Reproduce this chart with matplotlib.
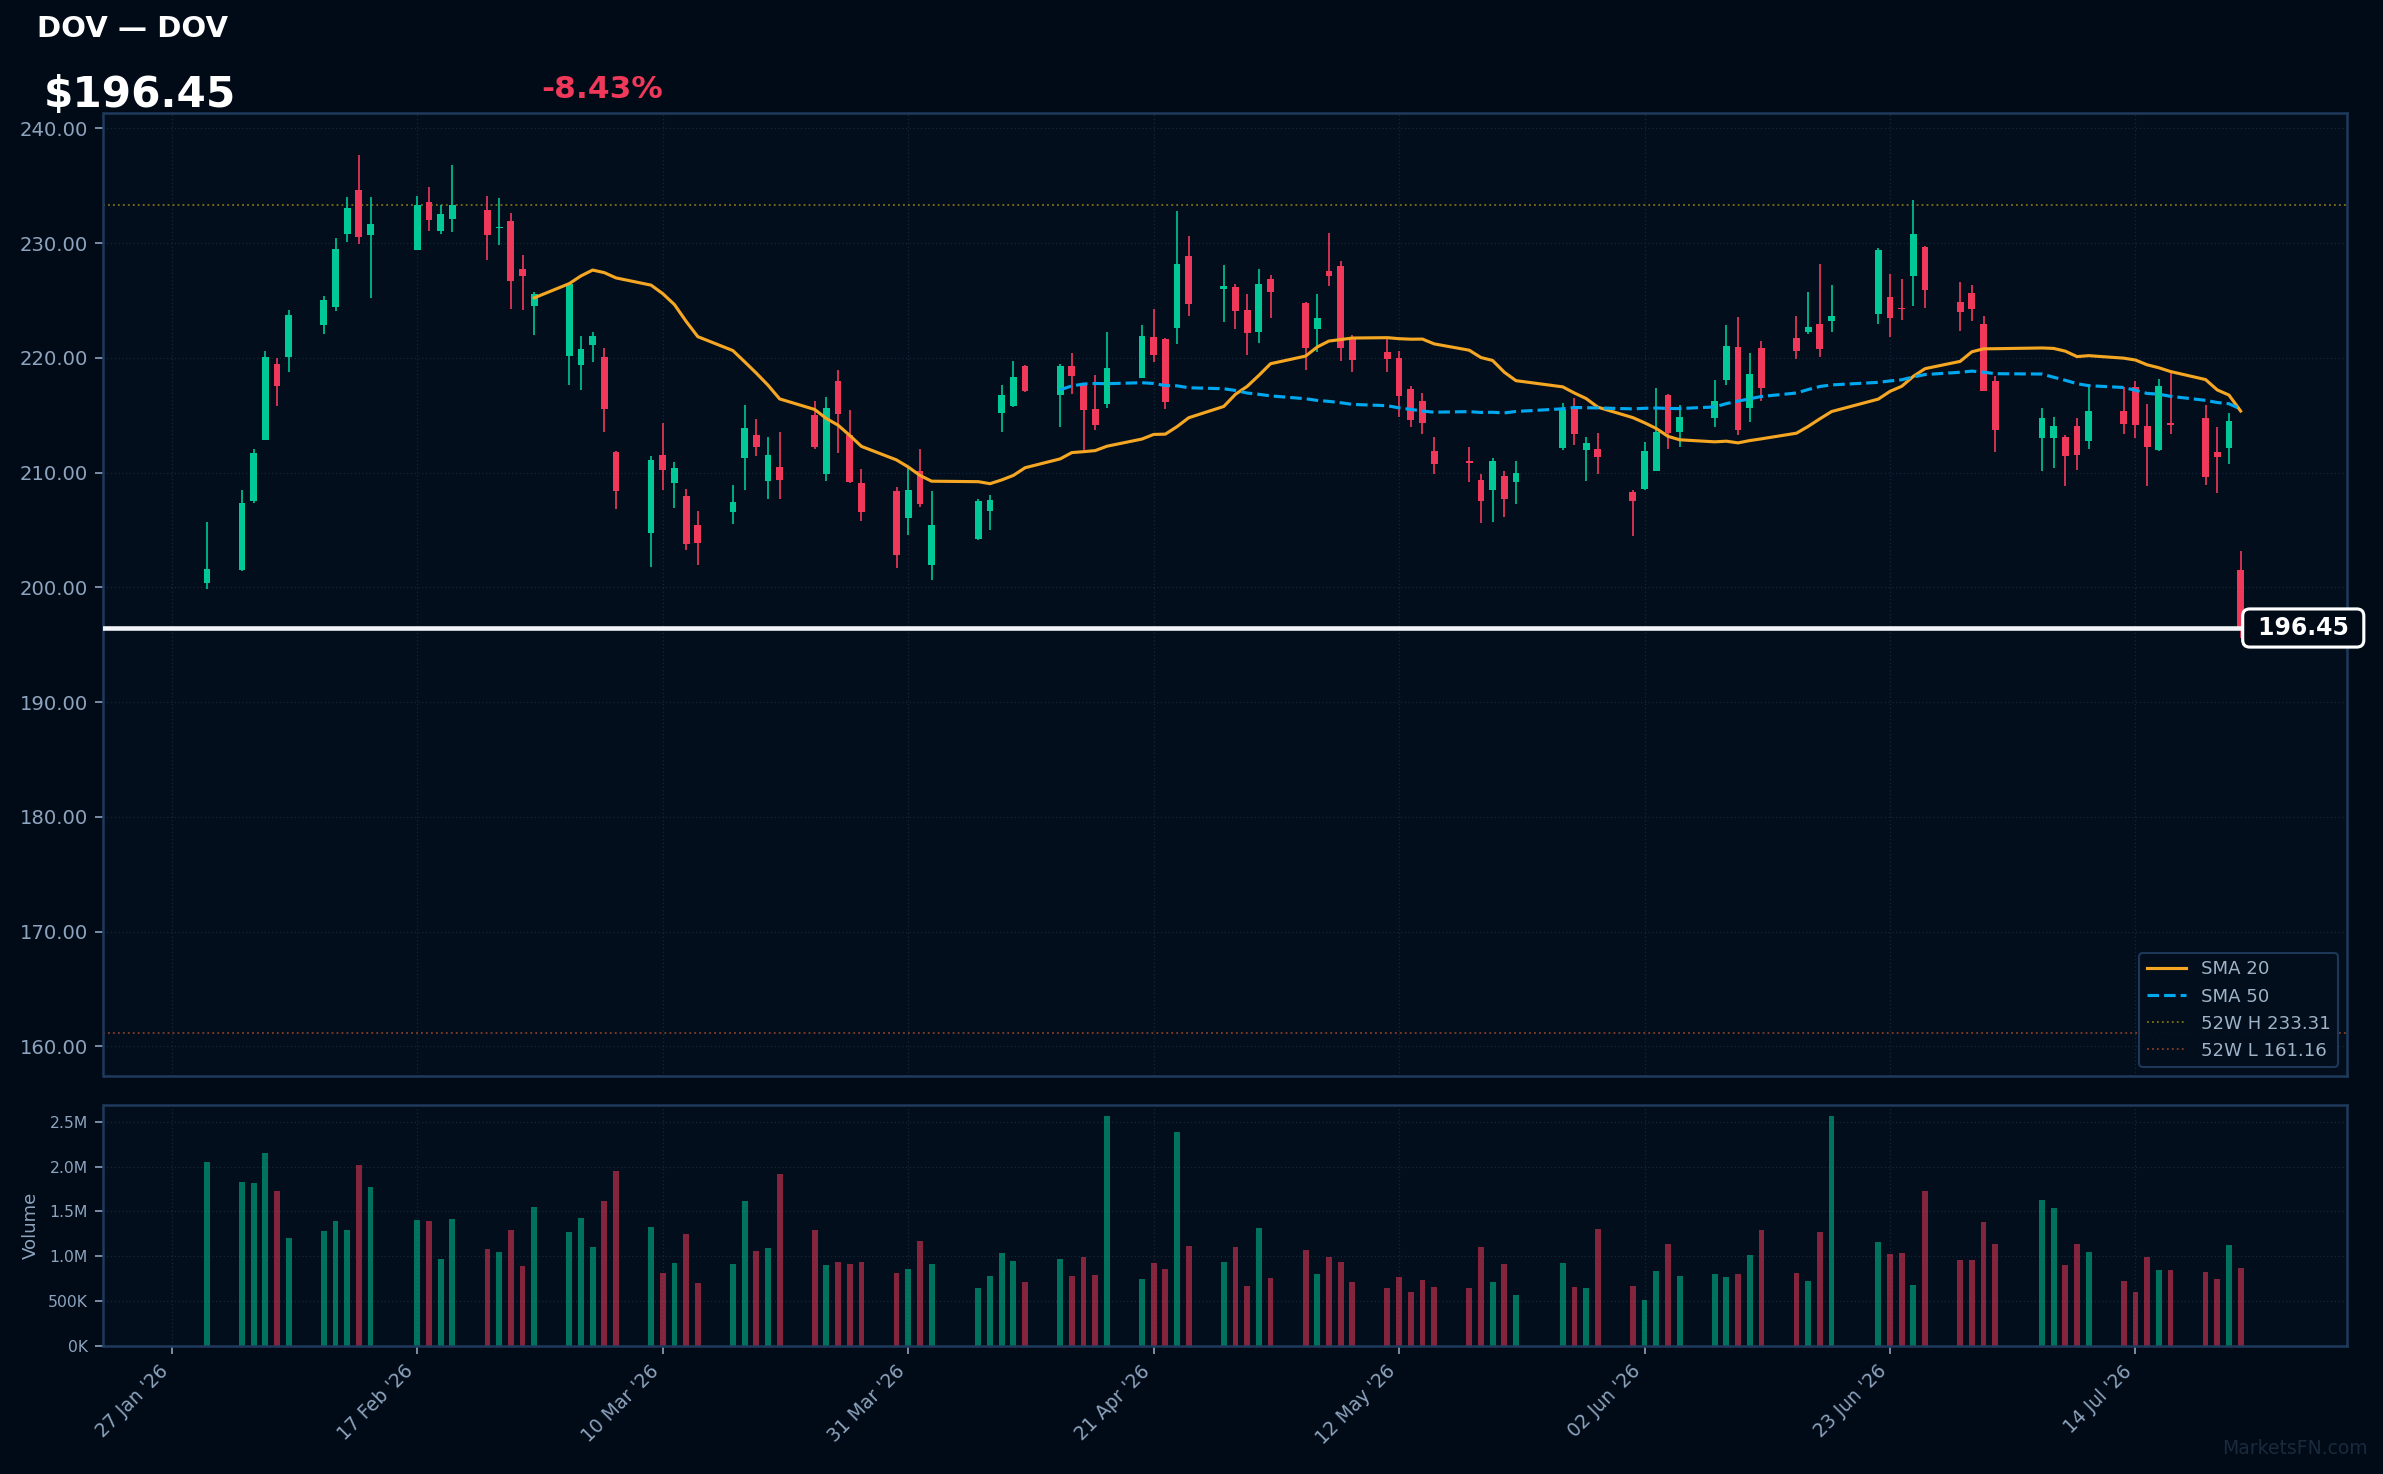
import matplotlib
matplotlib.use("Agg")
import matplotlib.pyplot as plt
import matplotlib.dates as mdates
import matplotlib.transforms as mtransforms
from matplotlib.ticker import FuncFormatter, MultipleLocator, FixedLocator
import numpy as np
import pandas as pd

# ---------------- data ----------------
ticker = "DOV"
name = "DOV"
high_52w = 233.31
low_52w = 161.16

dates = [
    "2026-01-30", "2026-02-02", "2026-02-03", "2026-02-04", "2026-02-05", "2026-02-06",
    "2026-02-09", "2026-02-10", "2026-02-11", "2026-02-12", "2026-02-13",
    "2026-02-17", "2026-02-18", "2026-02-19", "2026-02-20",
    "2026-02-23", "2026-02-24", "2026-02-25", "2026-02-26", "2026-02-27",
    "2026-03-02", "2026-03-03", "2026-03-04", "2026-03-05", "2026-03-06",
    "2026-03-09", "2026-03-10", "2026-03-11", "2026-03-12", "2026-03-13",
    "2026-03-16", "2026-03-17", "2026-03-18", "2026-03-19", "2026-03-20",
    "2026-03-23", "2026-03-24", "2026-03-25", "2026-03-26", "2026-03-27",
    "2026-03-30", "2026-03-31", "2026-04-01", "2026-04-02",
    "2026-04-06", "2026-04-07", "2026-04-08", "2026-04-09", "2026-04-10",
    "2026-04-13", "2026-04-14", "2026-04-15", "2026-04-16", "2026-04-17",
    "2026-04-20", "2026-04-21", "2026-04-22", "2026-04-23", "2026-04-24",
    "2026-04-27", "2026-04-28", "2026-04-29", "2026-04-30", "2026-05-01",
    "2026-05-04", "2026-05-05", "2026-05-06", "2026-05-07", "2026-05-08",
    "2026-05-11", "2026-05-12", "2026-05-13", "2026-05-14", "2026-05-15",
    "2026-05-18", "2026-05-19", "2026-05-20", "2026-05-21", "2026-05-22",
    "2026-05-26", "2026-05-27", "2026-05-28", "2026-05-29",
    "2026-06-01", "2026-06-02", "2026-06-03", "2026-06-04", "2026-06-05",
    "2026-06-08", "2026-06-09", "2026-06-10", "2026-06-11", "2026-06-12",
    "2026-06-15", "2026-06-16", "2026-06-17", "2026-06-18",
    "2026-06-22", "2026-06-23", "2026-06-24", "2026-06-25", "2026-06-26",
    "2026-06-29", "2026-06-30", "2026-07-01", "2026-07-02",
    "2026-07-06", "2026-07-07", "2026-07-08", "2026-07-09", "2026-07-10",
    "2026-07-13", "2026-07-14", "2026-07-15", "2026-07-16", "2026-07-17",
    "2026-07-20", "2026-07-21", "2026-07-22", "2026-07-23",
]

opens = [
    200.35, 201.51, 207.55, 212.87, 219.46, 220.04,
    222.86, 224.46, 230.82, 234.62, 230.70,
    229.42, 233.58, 231.08, 232.12,
    232.88, 231.30, 231.92, 227.74, 224.52,
    220.16, 219.37, 221.12, 220.04, 211.79,
    204.74, 211.53, 209.09, 207.96, 205.43,
    206.57, 211.27, 213.27, 209.27, 210.49,
    215.02, 209.91, 217.98, 213.27, 209.09,
    208.39, 206.04, 210.14, 201.95,
    204.21, 206.65, 215.19, 215.80, 219.29,
    216.76, 219.29, 217.63, 215.54, 215.98,
    218.24, 221.81, 221.64, 222.60, 228.87,
    226.00, 226.17, 224.17, 222.28, 226.87,
    224.78, 222.51, 227.56, 228.00, 221.64,
    220.51, 219.98, 217.28, 216.24, 211.88,
    210.98, 209.35, 208.48, 209.70, 209.18,
    212.14, 215.63, 211.97, 212.05,
    208.31, 208.57, 210.14, 216.76, 213.54,
    214.76, 218.07, 220.94, 215.63, 220.86,
    221.73, 222.25, 222.95, 223.21,
    223.82, 225.30, 224.34, 227.13, 229.66,
    224.86, 225.65, 222.95, 217.98,
    213.01, 213.01, 213.10, 214.06, 212.75,
    215.37, 217.46, 214.06, 211.97, 214.29,
    214.76, 211.79, 212.14, 201.51,
]

highs = [
    205.66, 208.48, 212.05, 220.59, 219.98, 224.17,
    225.39, 230.44, 234.01, 237.67, 234.01,
    234.10, 234.88, 233.32, 236.80,
    234.10, 233.93, 232.62, 228.96, 225.73,
    226.43, 221.90, 222.25, 220.86, 211.88,
    211.44, 214.32, 210.92, 208.57, 206.65,
    208.92, 215.89, 214.67, 213.10, 213.54,
    216.24, 216.59, 218.94, 215.45, 210.31,
    208.74, 210.40, 212.05, 208.39,
    207.70, 208.05, 217.63, 219.72, 219.37,
    219.46, 220.42, 217.63, 218.50, 222.25,
    222.86, 224.25, 221.73, 232.79, 230.61,
    228.09, 226.43, 225.56, 227.74, 227.22,
    224.86, 225.56, 230.87, 228.44, 221.99,
    221.64, 220.59, 217.54, 216.93, 213.10,
    212.23, 209.88, 211.27, 210.14, 211.01,
    216.06, 216.50, 213.10, 213.45,
    208.48, 212.66, 217.37, 216.85, 215.89,
    218.07, 222.86, 223.56, 220.42, 221.47,
    223.64, 225.73, 228.17, 226.34,
    229.57, 227.30, 226.87, 233.75, 229.74,
    226.61, 226.34, 223.64, 218.42,
    215.63, 214.84, 213.27, 214.76, 217.72,
    217.46, 217.98, 215.98, 218.15, 218.68,
    215.89, 213.97, 215.19, 203.17,
]

lows = [
    199.86, 201.45, 207.38, 212.80, 215.80, 218.79,
    222.07, 224.08, 230.09, 229.95, 225.24,
    229.40, 231.08, 230.79, 230.96,
    228.52, 229.83, 224.25, 224.17, 221.99,
    217.63, 217.20, 219.63, 213.54, 206.83,
    201.77, 208.48, 206.91, 203.25, 201.95,
    205.52, 208.48, 211.44, 207.70, 207.70,
    212.05, 209.30, 211.71, 209.09, 205.78,
    201.69, 204.56, 207.00, 200.64,
    204.12, 205.00, 213.54, 215.71, 217.02,
    213.97, 216.85, 211.97, 213.71, 215.63,
    218.20, 219.63, 215.54, 221.20, 223.64,
    223.12, 222.51, 220.25, 221.29, 223.47,
    218.94, 220.51, 226.26, 219.72, 218.76,
    218.76, 214.84, 213.97, 213.36, 209.88,
    209.18, 205.61, 205.69, 206.13, 207.26,
    211.97, 212.40, 209.27, 209.88,
    204.47, 208.50, 210.10, 212.05, 212.23,
    213.97, 217.63, 213.27, 214.41, 216.24,
    219.90, 222.07, 220.07, 222.25,
    222.95, 221.81, 223.29, 224.52, 224.34,
    222.34, 223.21, 217.10, 211.79,
    210.14, 210.40, 208.83, 210.22, 212.05,
    213.36, 213.01, 208.83, 211.88, 213.36,
    208.92, 208.22, 210.75, 195.60,
]

closes = [
    201.57, 207.35, 211.71, 220.04, 217.57, 223.70,
    225.04, 229.48, 233.05, 230.53, 231.66,
    233.32, 232.04, 232.53, 233.32,
    230.70, 231.40, 226.69, 227.13, 225.56,
    226.43, 220.77, 221.90, 215.54, 208.39,
    211.10, 210.22, 210.40, 203.78, 203.87,
    207.44, 213.88, 212.23, 211.53, 209.35,
    212.23, 215.63, 215.10, 209.18, 206.57,
    202.82, 208.48, 207.26, 205.43,
    207.52, 207.61, 216.76, 218.33, 217.11,
    219.29, 218.42, 215.45, 214.15, 219.11,
    221.90, 220.25, 216.15, 228.17, 224.69,
    226.26, 224.08, 222.19, 226.43, 225.73,
    220.86, 223.47, 227.13, 220.86, 219.81,
    219.90, 216.67, 214.58, 214.32, 210.75,
    210.86, 207.52, 211.01, 207.70, 209.96,
    215.45, 213.36, 212.58, 211.36,
    207.52, 211.88, 213.54, 213.45, 214.84,
    216.24, 221.03, 213.71, 218.59, 217.37,
    220.59, 222.68, 220.77, 223.64,
    229.39, 223.47, 224.25, 230.79, 225.91,
    223.99, 224.25, 217.11, 213.71,
    214.76, 214.06, 211.44, 211.53, 215.37,
    214.23, 214.15, 212.23, 217.54, 214.18,
    209.61, 211.36, 214.53, 196.45,
]

volumes_m = [
    2.055, 1.831, 1.820, 2.156, 1.731, 1.205,
    1.283, 1.395, 1.294, 2.022, 1.775,
    1.406, 1.395, 0.970, 1.417,
    1.082, 1.048, 1.294, 0.891, 1.552,
    1.272, 1.429, 1.104, 1.619, 1.954,
    1.328, 0.813, 0.925, 1.250, 0.701,
    0.914, 1.619, 1.059, 1.093, 1.921,
    1.294, 0.903, 0.936, 0.914, 0.936,
    0.813, 0.858, 1.171, 0.914,
    0.645, 0.780, 1.037, 0.947, 0.712,
    0.970, 0.780, 0.992, 0.791, 2.559,
    0.746, 0.925, 0.858, 2.391, 1.115,
    0.936, 1.104, 0.668, 1.317, 0.757,
    1.071, 0.802, 0.988, 0.936, 0.712,
    0.645, 0.768, 0.601, 0.735, 0.656,
    0.645, 1.104, 0.712, 0.914, 0.567,
    0.925, 0.656, 0.645, 1.305,
    0.668, 0.511, 0.836, 1.138, 0.780,
    0.802, 0.768, 0.802, 1.015, 1.294,
    0.813, 0.724, 1.272, 2.559,
    1.160, 1.026, 1.037, 0.679, 1.731,
    0.959, 0.959, 1.384, 1.138,
    1.630, 1.540, 0.903, 1.138, 1.048,
    0.724, 0.601, 0.988, 0.847, 0.847,
    0.824, 0.746, 1.126, 0.869,
]

tick_dates = ["2026-01-27", "2026-02-17", "2026-03-10", "2026-03-31", "2026-04-21",
              "2026-05-12", "2026-06-02", "2026-06-23", "2026-07-14"]

# ---------------- style ----------------
FIG_BG = "#000b17"
AX_BG = "#020e1b"
SPINE = "#1e3a5c"
GRID = "#15263a"
TXT = "#8ea3bd"
UP = "#00c897"
DOWN = "#f0395a"
SMA20_C = "#f5a623"
SMA50_C = "#00a8f0"

df = pd.DataFrame({"open": opens, "high": highs, "low": lows,
                   "close": closes, "volume": np.array(volumes_m) * 1e6},
                  index=pd.to_datetime(dates))
sma20 = df["close"].rolling(20).mean()
sma50 = df["close"].rolling(50).mean()

x = mdates.date2num(df.index.to_pydatetime())
up = df["close"].values >= df["open"].values
colors = np.where(up, UP, DOWN)

W, H = 2383, 1474
fig = plt.figure(figsize=(W / 150, H / 150), dpi=150, facecolor=FIG_BG)
L = 103.5 / W
R = 2347 / W
ax = fig.add_axes([L, 1 - 1076 / H, R - L, (1076 - 113) / H], facecolor=AX_BG)
axv = fig.add_axes([L, 1 - 1346 / H, R - L, (1346 - 1105) / H], facecolor=AX_BG, sharex=ax)

for a in (ax, axv):
    for s in a.spines.values():
        s.set_color(SPINE)
        s.set_linewidth(1.2)
    a.grid(True, color=GRID, linestyle=(0, (1, 2)), linewidth=0.6)
    a.set_axisbelow(True)
    a.tick_params(colors=TXT, which="both")

# candles
ax.vlines(x, df["low"], df["high"], colors=colors, linewidth=0.8, zorder=2)
body_bottom = np.minimum(df["open"], df["close"])
body_h = np.maximum(np.abs(df["close"] - df["open"]), 0.08)
ax.bar(x, body_h, bottom=body_bottom, width=0.58, color=colors, linewidth=0, zorder=3)

# SMAs
ax.plot(x, sma20.values, color=SMA20_C, linewidth=1.5, label="SMA 20", zorder=4)
ax.plot(x, sma50.values, color=SMA50_C, linewidth=1.5, linestyle="--", label="SMA 50", zorder=4)

# 52 week lines
ax.axhline(high_52w, color="#c8a814", alpha=0.6, linestyle=":", linewidth=0.9,
           label=f"52W H {high_52w:.2f}", zorder=1.5)
ax.axhline(low_52w, color="#d0582e", alpha=0.6, linestyle=":", linewidth=0.9,
           label=f"52W L {low_52w:.2f}", zorder=1.5)

# last price line and label
last = df["close"].iloc[-1]
prev = df["close"].iloc[-2]
pct = (last / prev - 1) * 100
ax.axhline(last, color="#f2f4f7", linewidth=2.2, zorder=5)
trans = mtransforms.blended_transform_factory(ax.transAxes, ax.transData)
ax.text(0.9805, last, f" {last:.2f} ", transform=trans, ha="center", va="center",
        color="white", fontsize=11.3, fontweight="bold", zorder=10, clip_on=False,
        bbox=dict(boxstyle="round,pad=0.3", fc=FIG_BG, ec="white", lw=1.5))

ax.set_ylim(157.41, 241.33)
ax.yaxis.set_major_locator(MultipleLocator(10))
ax.yaxis.set_major_formatter(FuncFormatter(lambda v, p: f"{v:.2f}"))
ax.tick_params(axis="y", labelsize=9.4, length=4)
ax.tick_params(axis="x", labelbottom=False, length=0)

leg = ax.legend(loc="lower right", fontsize=8.7, facecolor=AX_BG, edgecolor=SPINE,
                framealpha=0.95, labelcolor="#9fb3c8", handlelength=2.2)
leg.get_frame().set_linewidth(1.0)

# volume
vol_colors = np.where(up, UP, DOWN)
axv.bar(x, df["volume"], width=0.5, color=vol_colors, alpha=0.55, linewidth=0, zorder=2)
axv.set_ylim(0, df["volume"].max() * 1.05)
axv.yaxis.set_major_locator(MultipleLocator(500000))


def vfmt(v, p):
    if v >= 1e6:
        return f"{v / 1e6:.1f}M"
    return f"{v / 1e3:.0f}K"


axv.yaxis.set_major_formatter(FuncFormatter(vfmt))
axv.tick_params(axis="y", labelsize=7.5, length=4)
axv.set_ylabel("Volume", color=TXT, fontsize=8.7)

tick_nums = mdates.date2num(pd.to_datetime(tick_dates).to_pydatetime())
axv.xaxis.set_major_locator(FixedLocator(tick_nums))
axv.xaxis.set_major_formatter(mdates.DateFormatter("%d %b '%y"))
axv.tick_params(axis="x", labelsize=9, length=4)
for lbl in axv.get_xticklabels():
    lbl.set_rotation(45)
    lbl.set_ha("right")

t0 = mdates.date2num(pd.Timestamp("2026-01-27"))
ax.set_xlim(t0 - 5.85, t0 + 186.1)

# header
fig.text(37 / W, 1 - 36.7 / H, f"{ticker} \u2014 {name}", color="white", fontsize=14,
         fontweight="bold", va="baseline", ha="left")
fig.text(44 / W, 1 - 107 / H, f"${last:.2f}", color="white", fontsize=20.3,
         fontweight="bold", va="baseline", ha="left")
fig.text(541 / W, 1 - 98.3 / H, f"{pct:+.2f}%", color="#f0395a" if pct < 0 else UP,
         fontsize=15, fontweight="bold", va="baseline", ha="left")
fig.text(2368 / W, 1 - 1448 / H, "MarketsFN.com", color="#1a2a3c", fontsize=9,
         ha="right", va="center")

fig.savefig("out.png", dpi=150, facecolor=FIG_BG)
